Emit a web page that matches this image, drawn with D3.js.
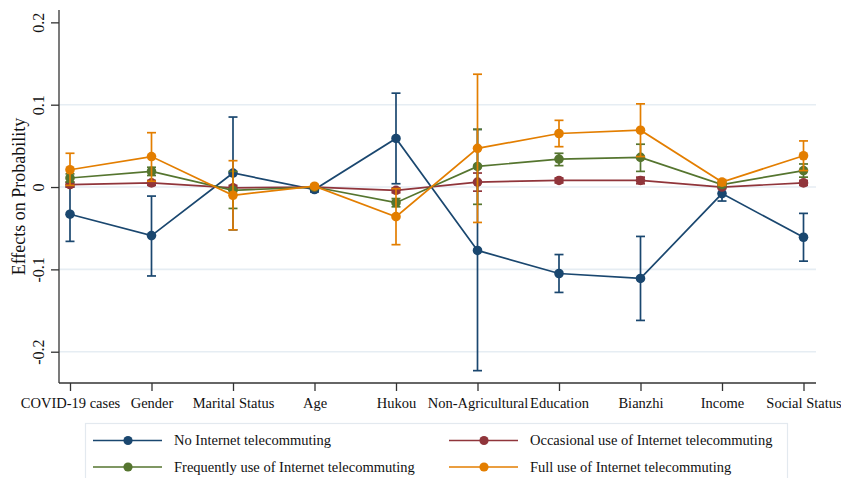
<!DOCTYPE html>
<html>
<head>
<meta charset="utf-8">
<script src="https://cdn.jsdelivr.net/npm/d3@7"></script>
<style>
  html, body { margin: 0; padding: 0; background: #ffffff; }
  svg { display: block; }
  text { font-family: "Liberation Serif", "Times New Roman", serif; fill: #111; }
</style>
</head>
<body>
<svg id="chart" width="841" height="478"></svg>
<script>
// Marginal effects by variable for each telecommuting group
const categories = ["COVID-19 cases", "Gender", "Marital Status", "Age", "Hukou",
  "Non-Agricultural", "Education", "Bianzhi", "Income", "Social Status"];

const yTicks = [-0.2, -0.1, 0, 0.1, 0.2];
const yTickLabels = ["-0.2", "-0.1", "0", "0.1", "0.2"];

const seriesNames = ["No Internet telecommuting", "Occasional use of Internet telecommuting",
  "Frequently use of Internet telecommuting", "Full use of Internet telecommuting"];
const seriesColors = ["#1a476f", "#90353b", "#55752f", "#e37e00"];

const noneEst = [-0.033, -0.059, 0.017, -0.003, 0.059, -0.077, -0.105, -0.111, -0.008, -0.061];
const noneLo  = [-0.066, -0.108, -0.052, -0.006, 0.004, -0.223, -0.128, -0.162, -0.017, -0.090];
const noneHi  = [0.000, -0.011, 0.085, 0.000, 0.114, 0.070, -0.082, -0.060, 0.000, -0.032];

const occEst = [0.003, 0.005, -0.001, 0.000, -0.004, 0.006, 0.008, 0.008, 0.000, 0.005];
const occLo  = [0.000, 0.002, -0.004, -0.002, -0.007, -0.005, 0.005, 0.004, -0.002, 0.002];
const occHi  = [0.006, 0.008, 0.002, 0.002, -0.001, 0.017, 0.011, 0.012, 0.002, 0.008];

const freqEst = [0.011, 0.019, -0.004, 0.000, -0.019, 0.025, 0.034, 0.036, 0.003, 0.020];
const freqLo  = [0.006, 0.014, -0.026, -0.002, -0.024, -0.021, 0.026, 0.019, 0.000, 0.012];
const freqHi  = [0.016, 0.024, 0.019, 0.002, -0.014, 0.070, 0.041, 0.052, 0.006, 0.028];

const fullEst = [0.021, 0.037, -0.010, 0.001, -0.036, 0.047, 0.065, 0.069, 0.006, 0.038];
const fullLo  = [0.002, 0.007, -0.052, -0.001, -0.070, -0.043, 0.049, 0.037, 0.002, 0.020];
const fullHi  = [0.041, 0.066, 0.032, 0.003, -0.002, 0.137, 0.081, 0.101, 0.009, 0.056];

const series = [
  { est: noneEst, lo: noneLo, hi: noneHi },
  { est: occEst, lo: occLo, hi: occHi },
  { est: freqEst, lo: freqLo, hi: freqHi },
  { est: fullEst, lo: fullLo, hi: fullHi }
].map((s, i) => ({ ...s, name: seriesNames[i], color: seriesColors[i] }));

const svg = d3.select("#chart");
const plot = { left: 59, right: 816, top: 10, bottom: 383 };

const x = d3.scalePoint().domain(categories).range([70, 803.5]);
const y = d3.scaleLinear().domain([-0.238, 0.215]).range([plot.bottom, plot.top]);

// horizontal grid
svg.append("g").selectAll("line")
  .data(yTicks.filter(v => v < 0.2))
  .join("line")
  .attr("x1", plot.left).attr("x2", plot.right)
  .attr("y1", d => y(d)).attr("y2", d => y(d))
  .attr("stroke", "#e6edf3").attr("stroke-width", 1.6);

// y axis
const yAxis = svg.append("g").attr("transform", `translate(${plot.left},0)`)
  .call(d3.axisLeft(y).tickValues(yTicks).tickSize(8).tickFormat((d, i) => yTickLabels[i]));
yAxis.select(".domain").remove();
yAxis.append("line").attr("x1", 0).attr("x2", 0).attr("y1", plot.top).attr("y2", plot.bottom)
  .attr("stroke", "#333").attr("stroke-width", 1.3);
yAxis.selectAll(".tick line").attr("stroke", "#333").attr("stroke-width", 1.3);
yAxis.selectAll(".tick text")
  .attr("x", null).attr("dy", null)
  .attr("transform", "translate(-15,0) rotate(-90)")
  .attr("text-anchor", "middle")
  .style("font-family", "'Liberation Serif', serif")
  .style("font-size", "16px").style("fill", "#111");

// x axis
const xAxis = svg.append("g").attr("transform", `translate(0,${plot.bottom})`)
  .call(d3.axisBottom(x).tickSize(8).tickSizeOuter(0));
xAxis.select(".domain").remove();
xAxis.append("line").attr("x1", plot.left).attr("x2", plot.right)
  .attr("stroke", "#333").attr("stroke-width", 1.3);
xAxis.selectAll(".tick line").attr("stroke", "#333").attr("stroke-width", 1.3);
xAxis.selectAll(".tick text")
  .attr("y", 25).attr("dy", null)
  .style("font-family", "'Liberation Serif', serif")
  .style("font-size", "14.5px").style("fill", "#111");

// y axis title
svg.append("text")
  .attr("transform", `translate(25,${(plot.top + plot.bottom) / 2}) rotate(-90)`)
  .attr("text-anchor", "middle")
  .style("font-size", "18px")
  .text("Effects on Probability");

// series: confidence caps, connecting line, markers
const capHalf = 4.5;
const line = d3.line().x((d, i) => x(categories[i])).y(d => y(d));

series.forEach(s => {
  const g = svg.append("g");
  const idx = d3.range(categories.length);
  const ci = g.append("g").attr("stroke", s.color).attr("stroke-width", 1.7).attr("fill", "none");
  ci.selectAll("line.v").data(idx).join("line").attr("class", "v")
    .attr("x1", i => x(categories[i])).attr("x2", i => x(categories[i]))
    .attr("y1", i => y(s.lo[i])).attr("y2", i => y(s.hi[i]));
  ci.selectAll("line.lo").data(idx).join("line").attr("class", "lo")
    .attr("x1", i => x(categories[i]) - capHalf).attr("x2", i => x(categories[i]) + capHalf)
    .attr("y1", i => y(s.lo[i])).attr("y2", i => y(s.lo[i]));
  ci.selectAll("line.hi").data(idx).join("line").attr("class", "hi")
    .attr("x1", i => x(categories[i]) - capHalf).attr("x2", i => x(categories[i]) + capHalf)
    .attr("y1", i => y(s.hi[i])).attr("y2", i => y(s.hi[i]));

  g.append("path").attr("d", line(s.est))
    .attr("fill", "none").attr("stroke", s.color).attr("stroke-width", 1.7);

  g.selectAll("circle").data(s.est).join("circle")
    .attr("cx", (d, i) => x(categories[i])).attr("cy", d => y(d))
    .attr("r", 4.8).attr("fill", s.color);
});

// legend
const legend = svg.append("g");
legend.append("rect")
  .attr("x", 85.5).attr("y", 423.5).attr("width", 702).attr("height", 70)
  .attr("fill", "#fff").attr("stroke", "#e3e9ef").attr("stroke-width", 1.2);

const legendPos = [
  { lx: 93, ty: 440.5 }, { lx: 449, ty: 440.5 },
  { lx: 93, ty: 467 }, { lx: 449, ty: 467 }
];
series.forEach((s, i) => {
  const p = legendPos[i];
  const item = legend.append("g");
  item.append("line").attr("x1", p.lx).attr("x2", p.lx + 69)
    .attr("y1", p.ty).attr("y2", p.ty)
    .attr("stroke", s.color).attr("stroke-width", 1.7);
  item.append("circle").attr("cx", p.lx + 35).attr("cy", p.ty).attr("r", 4.6).attr("fill", s.color);
  item.append("text").attr("x", p.lx + 81).attr("y", p.ty).attr("dy", "0.33em")
    .style("font-size", "14.5px").text(s.name);
});
</script>
</body>
</html>
